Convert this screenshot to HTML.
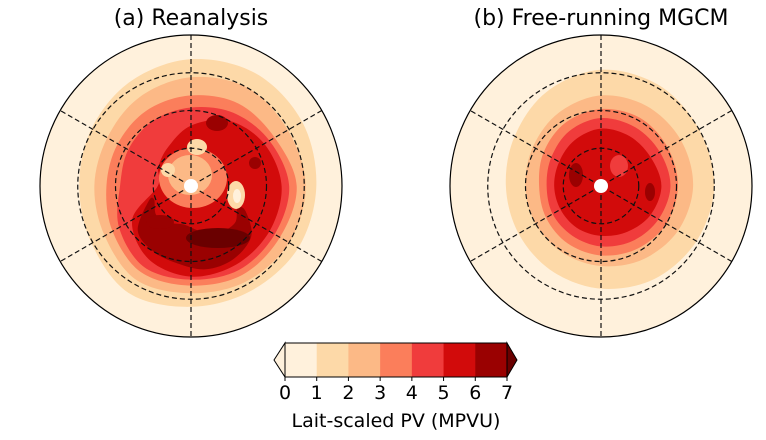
<!DOCTYPE html>
<html><head><meta charset="utf-8"><style>
body{margin:0;background:#fff;}
svg{display:block;font-family:"DejaVu Sans","Liberation Sans",sans-serif;}
</style></head><body>
<svg id="fig" width="766" height="440" viewBox="0 0 766 440">
<text x="191" y="25" font-size="22" text-anchor="middle">(a) Reanalysis</text>
<text x="601" y="25" font-size="22" text-anchor="middle">(b) Free-running MGCM</text>
<g id="pa"></g>
<g id="pb"></g>
<g id="cb"></g>
<text x="396" y="427" font-size="19" text-anchor="middle">Lait-scaled PV (MPVU)</text>
</svg>
<script>
const colors=["#fff1dc","#fdd9a8","#fcb986","#fb7e5b","#f03c3c","#d20b0b","#9a0101","#6a0000"];
const cbTicks=["0","1","2","3","4","5","6","7"];
// contour radii (fraction of radius) at angles 0,30,...,330 deg (counterclockwise from east)
const levelsA=[
 [0.83,0.85,0.86,0.84,0.80,0.76,0.74,0.76,0.82,0.80,0.80,0.82],
 [0.76,0.74,0.75,0.72,0.68,0.64,0.64,0.66,0.72,0.71,0.73,0.75],
 [0.70,0.64,0.63,0.60,0.58,0.56,0.56,0.60,0.66,0.66,0.68,0.68],
 [0.65,0.60,0.56,0.52,0.50,0.48,0.47,0.55,0.62,0.62,0.64,0.64],
 [0.60,0.56,0.50,0.40,0.30,0.25,0.22,0.45,0.56,0.60,0.60,0.60]
];
const levelsB=[
 [0.75,0.75,0.77,0.77,0.72,0.66,0.63,0.63,0.65,0.68,0.71,0.73],
 [0.61,0.61,0.61,0.60,0.56,0.52,0.50,0.50,0.51,0.53,0.56,0.59],
 [0.51,0.51,0.52,0.51,0.48,0.44,0.41,0.42,0.44,0.46,0.48,0.50],
 [0.46,0.45,0.45,0.45,0.42,0.38,0.36,0.37,0.38,0.40,0.42,0.44],
 [0.40,0.38,0.38,0.38,0.35,0.32,0.31,0.31,0.32,0.33,0.35,0.38]
];
// dark (level 6) southern arc in panel a: angles (deg) and inner/outer radius fractions
const darkArcAng=[200,220,240,260,280,300,320,335];
const darkArcOuter=[0.30,0.46,0.50,0.52,0.56,0.56,0.52,0.40];
const darkArcInner=[0.26,0.30,0.28,0.26,0.30,0.36,0.38,0.34];
const ns="http://www.w3.org/2000/svg";
function mk(t,a,p){const e=document.createElementNS(ns,t);for(const k in a)e.setAttribute(k,a[k]);p.appendChild(e);return e;}
function smooth(pts){let d="M"+pts[0][0]+","+pts[0][1];const n=pts.length;
 for(let i=0;i<n;i++){const p0=pts[(i-1+n)%n],p1=pts[i],p2=pts[(i+1)%n],p3=pts[(i+2)%n];
 d+=" C"+(p1[0]+(p2[0]-p0[0])/6)+","+(p1[1]+(p2[1]-p0[1])/6)+" "+(p2[0]-(p3[0]-p1[0])/6)+","+(p2[1]-(p3[1]-p1[1])/6)+" "+p2[0]+","+p2[1];}
 return d+"Z";}
function pol(cx,cy,R,a,f){const r=a*Math.PI/180;return [cx+f*R*Math.cos(r),cy-f*R*Math.sin(r)];}
function poly(cx,cy,R,rad){return rad.map((f,i)=>pol(cx,cy,R,i*30,f));}
function blob(g,cx,cy,rx,ry,c,name){const e=mk("ellipse",{cx:cx,cy:cy,rx:rx,ry:ry,fill:c},g);
 
 }
function panel(g,cx,cy,R,levels,extra){
 const cl="clip"+cx;const cp=mk("clipPath",{id:cl},g);mk("circle",{cx:cx,cy:cy,r:R},cp);
 const gg=mk("g",{"clip-path":"url(#"+cl+")"},g);
 const bg=mk("circle",{cx:cx,cy:cy,r:R,fill:colors[0]},gg);
 
 
 levels.forEach((lv,i)=>{const p=mk("path",{d:smooth(poly(cx,cy,R,lv)),fill:colors[i+1]},gg);
  
  });
 extra(gg);
 [0.25,0.5,0.75].forEach(f=>{const c=mk("circle",{cx:cx,cy:cy,r:f*R,fill:"none",stroke:"#111","stroke-width":1.2,"stroke-dasharray":"5,3"},gg);
  
  });
 [90,30,-30].forEach(a=>{const r=a*Math.PI/180;const l=mk("line",{x1:cx+R*Math.cos(r),y1:cy-R*Math.sin(r),x2:cx-R*Math.cos(r),y2:cy+R*Math.sin(r),stroke:"#111","stroke-width":1.2,"stroke-dasharray":"5,3"},gg);
  
  });
 const h=mk("circle",{cx:cx,cy:cy,r:7,fill:"#fff"},gg);
 
 
 const o=mk("circle",{cx:cx,cy:cy,r:R,fill:"none",stroke:"#000","stroke-width":1.2},g);
 
 
}
panel(document.getElementById("pa"),191,186,151,levelsA,g=>{
 const CX=191,CY=186,R=151;
 const pts=darkArcAng.map((a,i)=>pol(CX,CY,R,a,darkArcOuter[i])).concat(darkArcAng.slice().reverse().map((a,j)=>pol(CX,CY,R,a,darkArcInner[darkArcAng.length-1-j])));
 const d=mk("path",{d:smooth(pts),fill:colors[6]},g);
 
 
 blob(g,218,238,32,10,colors[7],"max-core-south");
 blob(g,193,178,34,30,colors[3],"center-region");
 blob(g,190,175,22,20,colors[2],"center-light");
 blob(g,197,147,10,8,colors[1],"light-spot-north");
 blob(g,236,195,9,14,colors[1],"light-spot-east");
 blob(g,237,196,4,7,colors[0],"light-core-east");
 blob(g,168,170,7,7,colors[1],"light-spot-west");
 blob(g,217,123,11,8,colors[6],"max-blob-north");
 blob(g,255,163,6,6,colors[6],"max-blob-east");
 blob(g,160,222,14,7,colors[6],"max-blob-sw");
});
panel(document.getElementById("pb"),601,186,151,levelsB,g=>{
 blob(g,576,175,7,12,colors[6],"max-blob-west");
 blob(g,650,192,5,9,colors[6],"max-blob-east");
 blob(g,619,166,9,11,colors[4],"center-light");
});
// colorbar
const cb=document.getElementById("cb");const x0=285,x1=507,y0=343,y1=377,w=(x1-x0)/7;
for(let i=0;i<7;i++){const r=mk("rect",{x:x0+i*w,y:y0,width:w+0.5,height:y1-y0,fill:colors[i]},cb);
 
 }
const lt=mk("polygon",{points:`${x0},${y0} ${x0},${y1} 274,${(y0+y1)/2}`,fill:colors[0],stroke:"#000","stroke-width":1},cb);


const rt=mk("polygon",{points:`${x1},${y0} ${x1},${y1} 517,${(y0+y1)/2}`,fill:colors[7],stroke:"#000","stroke-width":1},cb);


mk("rect",{x:x0,y:y0,width:x1-x0,height:y1-y0,fill:"none",stroke:"#000","stroke-width":1},cb);
cbTicks.forEach((t,i)=>{const x=x0+i*w;mk("line",{x1:x,y1:y1,x2:x,y2:y1+4,stroke:"#000"},cb);
 const tx=mk("text",{x:x,y:y1+22,"font-size":19,"text-anchor":"middle"},cb);tx.textContent=t;
 
 });
</script>
</body></html>
